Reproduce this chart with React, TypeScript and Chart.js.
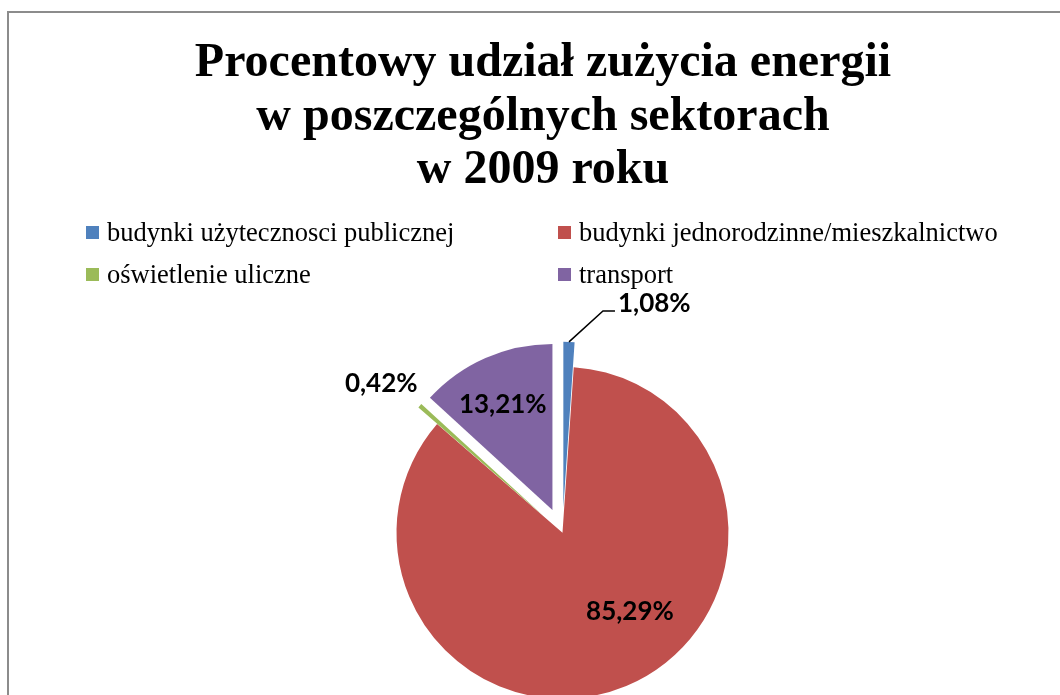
import React, { useEffect, useRef } from 'react';
import { Chart, registerables, layouts } from 'chart.js';

Chart.register(...registerables);

// ---- data ----
const TITLE_LINES = ['Procentowy udział zużycia energii', 'w poszczególnych sektorach', 'w 2009 roku'];
const CATEGORIES = [
  'budynki użytecznosci publicznej',
  'budynki jednorodzinne/mieszkalnictwo',
  'oświetlenie uliczne',
  'transport',
];
const VALUES = [1.08, 85.29, 0.42, 13.21];
const COLORS = ['#4F81BD', '#C0504D', '#9BBB59', '#8064A2'];

// ---- style / layout ----
const EXPLODE = [25, 0, 25, 25];
const CANVAS_W = 1068;
const CANVAS_H = 763;
const SPACER_W = 39;
const PIE_RADIUS = 166;

// label placement: polar position relative to each slice (fraction of radius, angle shift in degrees)
const LABEL_PLACEMENT = [
  { mode: 'leader', dx: 34, dy: -31, len: 12 },
  { mode: 'polar', r: 0.626, shift: -17.9 },
  { mode: 'polar', r: 1.264, shift: -2.5 },
  { mode: 'polar', r: 0.7, shift: -1.5 },
];

const fmt = (v: number) => v.toFixed(2).replace('.', ',') + '%';

const spacerPlugin = {
  id: 'leftSpacer',
  beforeInit(chart: any) {
    const box: any = {
      position: 'left',
      weight: 0,
      fullSize: false,
      options: {},
      top: 0, bottom: 0, left: 0, right: 0, width: 0, height: 0,
      update(_maxWidth: number, maxHeight: number) {
        this.width = SPACER_W;
        this.height = maxHeight;
      },
      isHorizontal() { return false; },
      getPadding() { return { top: 0, bottom: 0, left: 0, right: 0 }; },
      draw() {},
    };
    layouts.addBox(chart, box);
  },
};

const explodePlugin = {
  id: 'explodeSlices',
  afterDatasetUpdate(_chart: any, args: any) {
    args.meta.data.forEach((arc: any, i: number) => {
      const d = EXPLODE[i] || 0;
      if (!d) return;
      const mid = (arc.startAngle + arc.endAngle) / 2;
      arc.x += Math.cos(mid) * d;
      arc.y += Math.sin(mid) * d;
    });
  },
};

const labelPlugin = {
  id: 'sliceLabels',
  afterDatasetsDraw(chart: any) {
    const ctx = chart.ctx;
    const meta = chart.getDatasetMeta(0);
    const data = chart.data.datasets[0].data as number[];
    ctx.save();
    ctx.font = 'bold 26px Lato';
    ctx.fillStyle = '#000';
    ctx.textBaseline = 'middle';
    meta.data.forEach((arc: any, i: number) => {
      const { x, y, startAngle, endAngle, outerRadius } = arc.getProps(
        ['x', 'y', 'startAngle', 'endAngle', 'outerRadius'], true);
      const mid = (startAngle + endAngle) / 2;
      const cfg: any = LABEL_PLACEMENT[i];
      const text = fmt(data[i]);
      if (cfg.mode === 'leader') {
        const sx = x + Math.cos(mid) * outerRadius;
        const sy = y + Math.sin(mid) * outerRadius;
        const ex = sx + cfg.dx;
        const ey = sy + cfg.dy;
        ctx.strokeStyle = '#000';
        ctx.lineWidth = 1.5;
        ctx.beginPath();
        ctx.moveTo(sx, sy);
        ctx.lineTo(ex, ey);
        ctx.lineTo(ex + cfg.len, ey);
        ctx.stroke();
        ctx.textAlign = 'left';
        ctx.fillText(text, ex + cfg.len + 3, ey - 7);
      } else {
        const a = mid + (cfg.shift * Math.PI) / 180;
        const r = outerRadius * cfg.r;
        ctx.textAlign = 'center';
        ctx.fillText(text, x + Math.cos(a) * r, y + Math.sin(a) * r);
      }
    });
    ctx.restore();
  },
};

function PieChart() {
  const ref = useRef<HTMLCanvasElement | null>(null);
  useEffect(() => {
    if (!ref.current) return;
    const chart = new Chart(ref.current, {
      type: 'pie',
      data: {
        labels: CATEGORIES,
        datasets: [
          {
            data: VALUES,
            backgroundColor: COLORS,
            borderWidth: 0,
          },
        ],
      },
      options: {
        responsive: false,
        animation: false,
        events: [],
        radius: PIE_RADIUS,
        layout: { padding: 0 },
        plugins: {
          legend: { display: false },
          tooltip: { enabled: false },
          title: {
            display: true,
            text: TITLE_LINES,
            color: '#000',
            font: { family: 'Liberation Serif', size: 48, weight: 'bold', lineHeight: 1.115 },
            padding: { top: 24, bottom: 92 },
          },
        },
      } as any,
      plugins: [spacerPlugin, explodePlugin, labelPlugin],
    });
    return () => chart.destroy();
  }, []);
  return (
    <canvas
      ref={ref}
      width={CANVAS_W}
      height={CANVAS_H}
      style={{ position: 'absolute', left: 0, top: 0, width: CANVAS_W, height: CANVAS_H }}
    />
  );
}

function Legend() {
  return (
    <div
      style={{
        position: 'absolute',
        left: 77,
        top: 198,
        display: 'grid',
        gridTemplateColumns: '472px auto',
        rowGap: 0,
        fontFamily: 'Liberation Serif',
        fontSize: 26.5,
        color: '#000',
        lineHeight: '42px',
      }}
    >
      {CATEGORIES.map((c, i) => (
        <div key={c} style={{ display: 'flex', alignItems: 'center', whiteSpace: 'nowrap' }}>
          <span
            style={{
              display: 'inline-block',
              width: 13,
              height: 13,
              background: COLORS[i],
              marginRight: 8,
            }}
          />
          <span>{c}</span>
        </div>
      ))}
    </div>
  );
}

export default function App() {
  return (
    <div
      style={{
        position: 'fixed',
        left: 0,
        top: 0,
        width: 1060,
        height: 695,
        overflow: 'hidden',
        background: '#fff',
      }}
    >
      <div
        style={{
          position: 'absolute',
          left: 7,
          top: 11,
          width: CANVAS_W,
          height: CANVAS_H,
          border: '2px solid #8c8c8c',
          background: '#fff',
        }}
      >
        <PieChart />
        <Legend />
      </div>
    </div>
  );
}
